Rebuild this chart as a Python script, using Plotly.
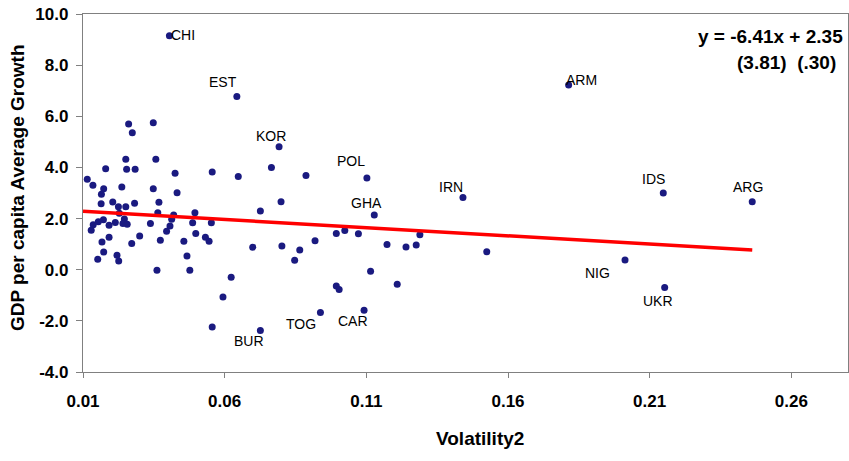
import plotly.graph_objects as go

# ---- data ----
volatility = [
    0.0405, 0.0643, 0.0792, 0.1102, 0.1128, 0.0938, 0.1092, 0.0726,
    0.1814, 0.1441, 0.2148, 0.2462, 0.2013, 0.2153,
    0.1525, 0.1289, 0.0556, 0.0648, 0.0765, 0.0887, 0.0799, 0.0726,
    0.0553, 0.0532, 0.0545, 0.0699, 0.0802, 0.0865, 0.0919, 0.0847,
    0.0994, 0.1024, 0.1072, 0.1173, 0.1240, 0.1276, 0.1115, 0.1209,
    0.0994, 0.1004, 0.0623, 0.0594, 0.0556, 0.0251, 0.0357, 0.0180,
    0.0254, 0.0284, 0.0425, 0.0115, 0.0135, 0.0173, 0.0237, 0.0348,
    0.0165, 0.0432, 0.0164, 0.0205, 0.0225, 0.0251, 0.0282, 0.0368,
    0.0228, 0.0364, 0.0420, 0.0495, 0.0246, 0.0172, 0.0154, 0.0136,
    0.0192, 0.0214, 0.0241, 0.0256, 0.0338, 0.0413, 0.0407, 0.0395,
    0.0487, 0.0498, 0.0129, 0.0192, 0.0300, 0.0167, 0.0272, 0.0373,
    0.0456, 0.0173, 0.0220, 0.0226, 0.0152, 0.0467, 0.0361, 0.0477,
    0.0261, 0.0274, 0.0348,
]
growth = [
    9.15, 6.77, 4.81, 3.59, 2.14, -1.67, -1.59, -2.38,
    7.22, 2.82, 3.00, 2.66, 0.38, -0.70,
    0.70, 1.37, 3.82, 3.65, 4.00, 3.68, 2.66, 2.30,
    1.84, 1.27, 1.11, 0.88, 0.93, 0.77, 1.13, 0.37,
    1.42, 1.53, 1.41, 0.99, 0.89, 0.97, -0.06, -0.57,
    -0.64, -0.77, -0.29, -1.07, -2.24, 4.32, 4.32, 3.95,
    3.93, 3.93, 3.77, 3.54, 3.30, 3.17, 3.23, 3.17,
    2.95, 3.01, 2.58, 2.65, 2.46, 2.46, 2.60, 2.64,
    2.21, 2.23, 2.14, 2.23, 1.98, 1.95, 1.88, 1.76,
    1.74, 1.85, 1.81, 1.78, 1.81, 1.97, 1.71, 1.50,
    1.84, 1.42, 1.54, 1.27, 1.32, 1.08, 1.03, 1.15,
    1.11, 0.69, 0.57, 0.34, 0.41, 0.54, -0.02, -0.02,
    5.70, 5.36, 5.75,
]
country_labels = ["CHI", "EST", "KOR", "POL", "GHA", "TOG", "CAR", "BUR",
                  "ARM", "IRN", "IDS", "ARG", "NIG", "UKR"]

slope = -6.41
intercept = 2.35
equation_lines = ["y = -6.41x + 2.35", "(3.81)  (.30)"]

x_ticks = [0.01, 0.06, 0.11, 0.16, 0.21, 0.26]
y_ticks = [10.0, 8.0, 6.0, 4.0, 2.0, 0.0, -2.0, -4.0]

# ---- styles ----
# label offsets in pixels (dx right, dy down) relative to each dot
label_offsets = {
    "CHI": (14, -1), "EST": (-14, -15), "KOR": (-8, -11), "POL": (-16, -17),
    "GHA": (-8, -12), "TOG": (-19, 12), "CAR": (-11, 11), "BUR": (-11, 10),
    "ARM": (13, -5), "IRN": (-12, -11), "IDS": (-10, -14), "ARG": (-4, -15),
    "NIG": (-28, 13), "UKR": (-7, 13),
}
FONT = "Liberation Sans, Arial, sans-serif"
DOT = "#1a1a80"

fig = go.Figure()

fig.add_trace(go.Scatter(
    x=volatility, y=growth, mode="markers",
    marker=dict(color=DOT, size=7, line=dict(width=0)),
    hoverinfo="x+y", showlegend=False,
))

fit_x = [x_ticks[0], max(volatility)]
fit_y = [slope * v + intercept for v in fit_x]
fig.add_trace(go.Scatter(
    x=fit_x, y=fit_y, mode="lines",
    line=dict(color="#ff0000", width=3.5), showlegend=False,
))

annotations = []
for i, code in enumerate(country_labels):
    dx, dy = label_offsets[code]
    annotations.append(dict(
        x=volatility[i], y=growth[i], xref="x", yref="y", text=code,
        showarrow=False, xanchor="center", yanchor="middle",
        xshift=dx, yshift=-dy,
        font=dict(family=FONT, size=14, color="#000000"),
    ))

# regression equation (top right)
annotations.append(dict(
    x=1, y=0.9385, xref="paper", yref="paper", text=equation_lines[0],
    showarrow=False, xanchor="right", yanchor="middle", xshift=-3,
    font=dict(family=FONT, size=19, color="#000000", weight="bold"),
))
annotations.append(dict(
    x=1, y=0.864, xref="paper", yref="paper", text=equation_lines[1],
    showarrow=False, xanchor="right", yanchor="middle", xshift=-10,
    font=dict(family=FONT, size=19, color="#000000", weight="bold"),
))
# axis titles
annotations.append(dict(
    x=0, y=0.514, xref="paper", yref="paper",
    text="GDP per capita Average Growth", textangle=-90,
    showarrow=False, xanchor="center", yanchor="middle", xshift=-65,
    font=dict(family=FONT, size=19, color="#000000", weight="bold"),
))
annotations.append(dict(
    x=(480 - 83) / 765, y=0, xref="paper", yref="paper", text="Volatility2",
    showarrow=False, xanchor="center", yanchor="middle", yshift=-66,
    font=dict(family=FONT, size=19, color="#000000", weight="bold"),
))

fig.update_layout(
    width=849, height=461,
    margin=dict(l=83, r=1, t=14, b=89, pad=0),
    paper_bgcolor="#ffffff", plot_bgcolor="#ffffff",
    font=dict(family=FONT, color="#000000"),
    annotations=annotations,
    showlegend=False,
)
fig.update_xaxes(
    range=[0.01, 0.28], tickmode="array", tickvals=x_ticks,
    ticktext=[f"{v:.2f}" for v in x_ticks],
    showgrid=False, zeroline=False,
    showline=True, linecolor="#808080", linewidth=1.3, mirror=True,
    ticks="outside", ticklen=5, tickcolor="#808080", ticklabelstandoff=8,
    tickfont=dict(family=FONT, size=17, color="#000000", weight="bold"),
)
fig.update_yaxes(
    range=[-4.0, 10.0], tickmode="array", tickvals=y_ticks,
    ticktext=[f"{v:.1f}" for v in y_ticks],
    showgrid=False, zeroline=False,
    showline=True, linecolor="#808080", linewidth=1.3, mirror=True,
    ticks="outside", ticklen=6, tickcolor="#808080", ticklabelstandoff=4,
    tickfont=dict(family=FONT, size=17, color="#000000", weight="bold"),
)

fig.write_html(
    "out.html",
    config={"displayModeBar": False},
    post_script="document.body.style.margin='0';document.body.style.overflow='hidden';",
)
